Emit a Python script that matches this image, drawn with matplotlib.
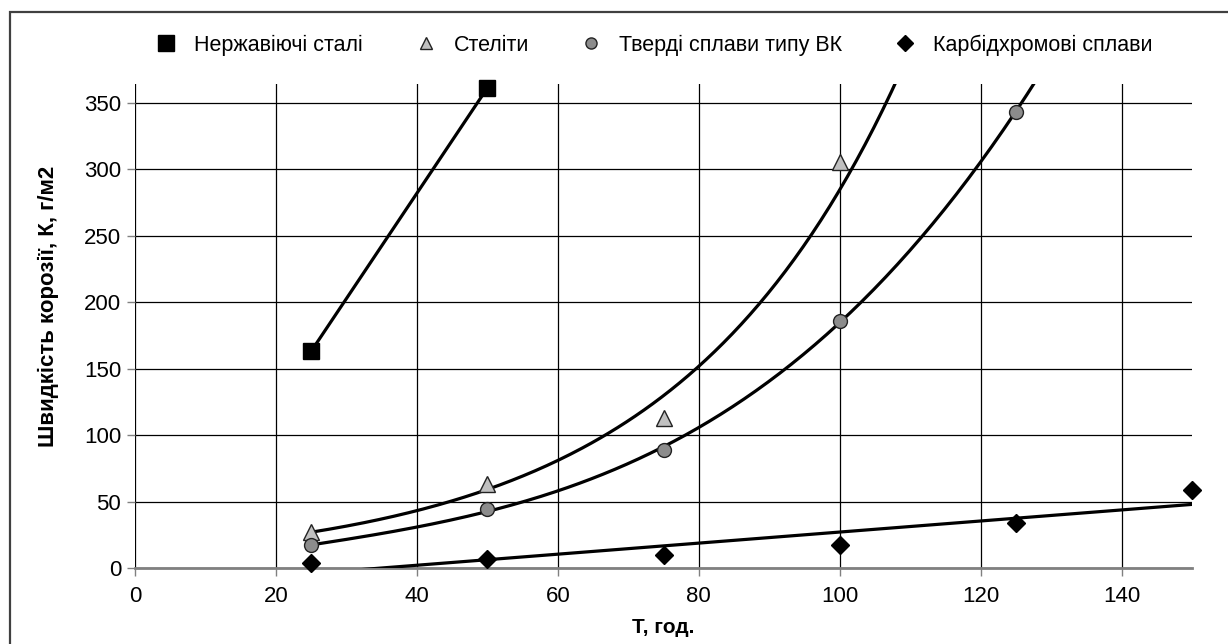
import numpy as np
import matplotlib
matplotlib.use('Agg')
import matplotlib.pyplot as plt
from matplotlib.lines import Line2D
from matplotlib.patches import Rectangle

plt.rcParams['font.family'] = ['Liberation Sans', 'DejaVu Sans']

# Data (T, hours -> corrosion, g/m2)
t_steel = [25, 50]
k_steel = [163, 361]

t_stel = [25, 50, 75, 100]
k_stel = [27, 63, 113, 305]

t_vk = [25, 50, 75, 100, 125]
k_vk = [17, 44, 89, 186, 343]

t_carb = [25, 50, 75, 100, 125, 150]
k_carb = [4, 7, 9.5, 17.5, 34, 59]

labels = ['Нержавіючі сталі', 'Стеліти', 'Тверді сплави типу ВК', 'Карбідхромові сплави']

fig = plt.figure(figsize=(12.28, 6.44), dpi=100)
ax = fig.add_axes([135 / 1228, 1 - 568 / 644, (1192 - 135) / 1228, (568 - 84) / 644])

# trend lines
xs = np.linspace(25, 50, 50)
p = np.polyfit(t_steel, k_steel, 1)
ax.plot(xs, np.polyval(p, xs), color='black', lw=2.3, zorder=3)

xs = np.linspace(25, 150, 300)
b, a = np.polyfit(t_stel, np.log(k_stel), 1)
ax.plot(xs, np.exp(a + b * xs), color='black', lw=2.3, zorder=3)

p = np.polyfit(t_vk, k_vk, 3)
ax.plot(xs, np.polyval(p, xs), color='black', lw=2.3, zorder=3)

p = np.polyfit(t_carb, k_carb, 1)
ax.plot(xs, np.polyval(p, xs), color='black', lw=2.3, zorder=3)

# points
ax.plot(t_steel, k_steel, 's', ms=12, color='black', zorder=4, clip_on=False)
ax.plot(t_stel, k_stel, '^', ms=11, mfc='#c0c0c0', mec='#222222', mew=1, zorder=4)
ax.plot(t_vk, k_vk, 'o', ms=10, mfc='#8c8c8c', mec='#222222', mew=1, zorder=4)
ax.plot(t_carb, k_carb, 'D', ms=9.5, color='black', zorder=4, clip_on=False)

ax.set_xlim(0, 150)
ax.set_ylim(0, 364)
ax.set_xticks(range(0, 141, 20))
ax.set_yticks(range(0, 351, 50))
ax.grid(True, color='black', lw=0.9)
ax.set_axisbelow(True)
for s in ['top', 'right', 'left']:
    ax.spines[s].set_visible(False)
ax.spines['bottom'].set_color('#808080')
ax.spines['bottom'].set_linewidth(2)
ax.tick_params(axis='both', length=6, width=1, color='#808080', labelsize=16)
ax.tick_params(axis='x', pad=7)
ax.tick_params(axis='y', pad=4)

ax.set_xlabel('Т, год.', fontsize=15, fontweight='bold')
ax.set_ylabel('Швидкість корозії, К, г/м2', fontsize=16, fontweight='bold')
ax.xaxis.set_label_coords(0.5, -0.103)
ax.yaxis.set_label_coords(-0.072, 0.541)

handles = [
    Line2D([], [], ls='none', marker='s', ms=12, color='black'),
    Line2D([], [], ls='none', marker='^', ms=9, mfc='#c0c0c0', mec='#222222'),
    Line2D([], [], ls='none', marker='o', ms=8, mfc='#8c8c8c', mec='#222222'),
    Line2D([], [], ls='none', marker='D', ms=8, color='black'),
]
fig.legend(handles, labels, loc='center', bbox_to_anchor=(653 / 1228, 1 - 45 / 644),
           ncol=4, frameon=False, fontsize=15.5, handletextpad=0.7, columnspacing=2.3,
           handlelength=1.2)

fig.patches.append(Rectangle((10 / 1228, -0.1), 1.2, 1.1 - 12 / 644, transform=fig.transFigure,
                             fill=False, ec='#404040', lw=1.6))

fig.savefig('out.png', dpi=100)
